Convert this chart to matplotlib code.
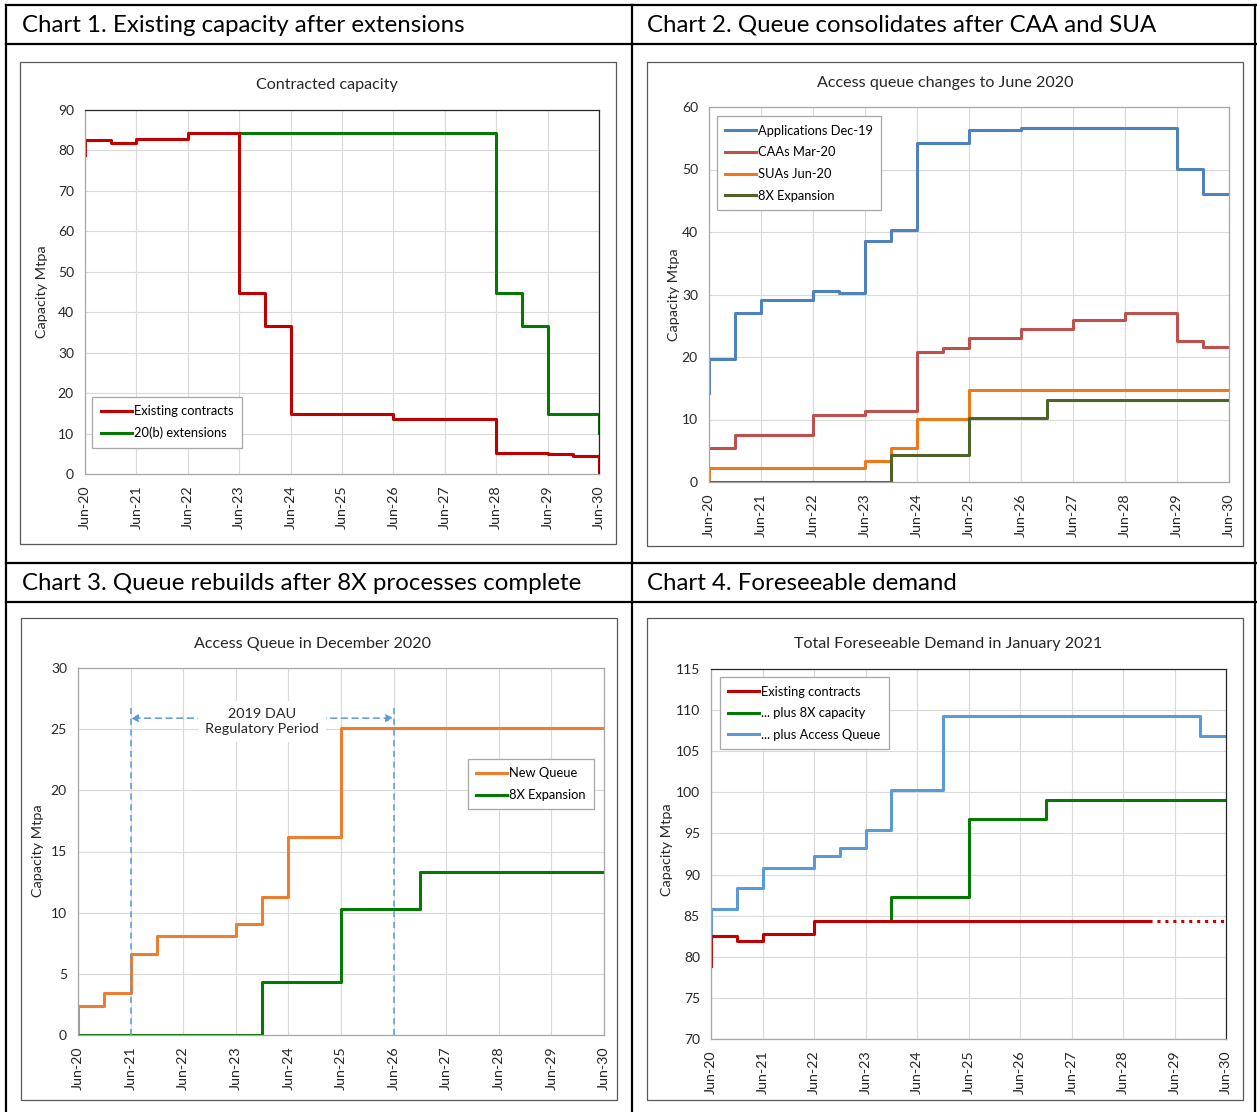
import numpy as np
import matplotlib
matplotlib.use('Agg')
import matplotlib.pyplot as plt
from matplotlib.lines import Line2D
from matplotlib.patches import Rectangle

plt.rcParams['font.family'] = ['Lato', 'DejaVu Sans']

# x positions are years after Jun-20 (step changes at Jun / Dec)
tick_labels = ['Jun-20', 'Jun-21', 'Jun-22', 'Jun-23', 'Jun-24', 'Jun-25',
               'Jun-26', 'Jun-27', 'Jun-28', 'Jun-29', 'Jun-30']

# chart 1 - contracted capacity
c1_existing_x = [0, 0, 0.5, 1, 2, 3, 3.5, 4, 6, 8, 9, 9.5, 10]
c1_existing_y = [78.8, 82.5, 81.9, 82.8, 84.3, 44.7, 36.6, 14.9, 13.6, 5.1, 4.9, 4.4, 0]
c1_ext_x = [3, 8, 8.5, 9, 10]
c1_ext_y = [84.3, 44.7, 36.6, 14.9, 10.2]

# chart 2 - access queue changes to June 2020
c2_apps_x = [0, 0, 0.5, 1, 2, 2.5, 3, 3.5, 4, 5, 6, 9, 9.5, 10]
c2_apps_y = [14.2, 19.7, 27.0, 29.1, 30.6, 30.3, 38.6, 40.4, 54.3, 56.3, 56.7, 50.1, 46.1, 46.1]
c2_caa_x = [0, 0.5, 2, 3, 4, 4.5, 5, 6, 7, 8, 9, 9.5, 10]
c2_caa_y = [5.5, 7.5, 10.8, 11.3, 20.8, 21.5, 23.0, 24.5, 26.0, 27.0, 22.5, 21.6, 21.6]
c2_sua_x = [0, 0, 3, 3.5, 4, 5, 10]
c2_sua_y = [0, 2.3, 3.4, 5.5, 10.1, 14.8, 14.8]
c2_8x_x = [0, 3.5, 5, 6.5, 10]
c2_8x_y = [0, 4.3, 10.3, 13.2, 13.2]

# chart 3 - access queue in December 2020
c3_queue_x = [0, 0, 0.5, 1, 1.5, 3, 3.5, 4, 5, 10]
c3_queue_y = [0, 2.4, 3.4, 6.6, 8.1, 9.1, 11.3, 16.2, 25.1, 25.1]
c3_8x_x = [0, 3.5, 5, 6.5, 10]
c3_8x_y = [0, 4.3, 10.3, 13.3, 13.3]
dau_start, dau_end = 1, 6

# chart 4 - total foreseeable demand
c4_exist_x = [0, 0, 0.5, 1, 2, 8.5]
c4_exist_y = [78.9, 82.5, 81.9, 82.8, 84.3, 84.3]
c4_exist_tail_x = [8.5, 10]
c4_exist_tail_y = [84.3, 84.3]
c4_8x_x = [3.5, 3.5, 5, 6.5, 10]
c4_8x_y = [84.3, 87.3, 96.7, 99.1, 99.1]
c4_queue_x = [0, 0, 0.5, 1, 2, 2.5, 3, 3.5, 4.5, 9.5, 10]
c4_queue_y = [81.3, 85.8, 88.4, 90.8, 92.3, 93.2, 95.4, 100.3, 109.3, 106.9, 106.9]

W, H = 1257, 1112
fig = plt.figure(figsize=(W / 100, H / 100), dpi=100)


def fx(px):
    return px / W


def fy(py):
    return 1 - py / H


def axes_at(l, t, r, b):
    return fig.add_axes([fx(l), fy(b), (r - l) / W, (b - t) / H])


# table grid
for y in [5, 44, 563, 602]:
    fig.add_artist(Line2D([fx(6), fx(1256)], [fy(y), fy(y)], color='black', lw=1.6))
for x in [6, 632, 1255]:
    fig.add_artist(Line2D([fx(x), fx(x)], [fy(5), fy(1112)], color='black', lw=1.6))

headers = [(22, 25, 'Chart 1. Existing capacity after extensions'),
           (647, 25, 'Chart 2. Queue consolidates after CAA and SUA'),
           (22, 583, 'Chart 3. Queue rebuilds after 8X processes complete'),
           (647, 583, 'Chart 4. Foreseeable demand')]
for x, y, s in headers:
    fig.text(fx(x), fy(y), s, fontsize=17.3, va='center', ha='left', color='black')

# chart frames
for l, t, r, b in [(20, 62, 616, 544), (647, 62, 1243, 546),
                   (21, 618, 617, 1100), (647, 618, 1243, 1100)]:
    fig.add_artist(Rectangle((fx(l), fy(b)), (r - l) / W, (b - t) / H,
                             transform=fig.transFigure, fill=False,
                             edgecolor='#595959', lw=0.9))


def style(ax, ymin, ymax, ystep, dark):
    ax.set_xlim(0, 10)
    ax.set_ylim(ymin, ymax)
    ax.set_xticks(range(11))
    ax.set_xticklabels(tick_labels, rotation=90)
    ax.set_yticks(np.arange(ymin, ymax + 0.1, ystep))
    ax.grid(True, color='#D9D9D9', lw=0.8)
    ax.set_axisbelow(True)
    ax.tick_params(axis='y', length=0, labelsize=10, colors='#262626', pad=8)
    ax.tick_params(axis='x', length=0, labelsize=10.3, colors='#262626', pad=8)
    for side in ['left', 'bottom']:
        ax.spines[side].set_color('#A6A6A6')
    for side in ['top', 'right']:
        ax.spines[side].set_color('#262626' if dark else '#A6A6A6')
    for sp in ax.spines.values():
        sp.set_linewidth(0.9)


def legend(ax, **kw):
    leg = ax.legend(fontsize=9.3, handlelength=2.4, handletextpad=0.15,
                    labelspacing=0.75, borderpad=0.65, borderaxespad=0,
                    fancybox=False, framealpha=1, edgecolor='#A6A6A6', **kw)
    leg.get_frame().set_linewidth(0.9)
    return leg


lw = 2.2
title_fs = 11.6
ylab_fs = 10.4

# chart 1
ax1 = axes_at(85, 110, 599, 474)
ax1.step(c1_ext_x, c1_ext_y, where='post', color='#047A04', lw=lw, label='20(b) extensions')
ax1.step(c1_existing_x, c1_existing_y, where='post', color='#C00000', lw=lw, label='Existing contracts')
style(ax1, 0, 90, 10, True)
h, l = ax1.get_legend_handles_labels()
legend(ax1, handles=h[::-1], labels=l[::-1], loc='lower left', bbox_to_anchor=(0.014, 0.072))
fig.text(fx(327), fy(85), 'Contracted capacity', fontsize=title_fs, ha='center', va='center', color='#262626')
fig.text(fx(42), fy(292), 'Capacity Mtpa', fontsize=ylab_fs, rotation=90, ha='center', va='center', color='#262626')

# chart 2
ax2 = axes_at(709, 107, 1229, 482)
ax2.step(c2_apps_x, c2_apps_y, where='post', color='#4F81BD', lw=lw, label='Applications Dec-19')
ax2.step(c2_caa_x, c2_caa_y, where='post', color='#C0504D', lw=lw, label='CAAs Mar-20')
ax2.step(c2_sua_x, c2_sua_y, where='post', color='#F07818', lw=lw, label='SUAs Jun-20')
ax2.step(c2_8x_x, c2_8x_y, where='post', color='#4F6228', lw=lw, label='8X Expansion')
style(ax2, 0, 60, 10, False)
legend(ax2, loc='upper left', bbox_to_anchor=(0.015, 0.975))
fig.text(fx(945), fy(83), 'Access queue changes to June 2020', fontsize=title_fs, ha='center', va='center', color='#262626')
fig.text(fx(674), fy(295), 'Capacity Mtpa', fontsize=ylab_fs, rotation=90, ha='center', va='center', color='#262626')

# chart 3
ax3 = axes_at(78, 668, 604, 1035)
ax3.step(c3_queue_x, c3_queue_y, where='post', color='#ED7D31', lw=lw, label='New Queue')
ax3.step(c3_8x_x, c3_8x_y, where='post', color='#047A04', lw=lw, label='8X Expansion')
style(ax3, 0, 30, 5, False)
dash_col = '#5B9BD5'
for xv in [dau_start, dau_end]:
    ax3.plot([xv, xv], [0, 27], color=dash_col, lw=1.1, ls=(0, (4, 3)), zorder=4)
arr_y = 25.9
ax3.annotate('', xy=(dau_start, arr_y), xytext=(2.4, arr_y),
             arrowprops=dict(arrowstyle='-|>', color=dash_col, lw=1.1, ls=(0, (4, 3)), mutation_scale=11,
                             shrinkA=0, shrinkB=0))
ax3.annotate('', xy=(dau_end, arr_y), xytext=(4.6, arr_y),
             arrowprops=dict(arrowstyle='-|>', color=dash_col, lw=1.1, ls=(0, (4, 3)), mutation_scale=11,
                             shrinkA=0, shrinkB=0))
ax3.text(3.5, 25.6, '2019 DAU\nRegulatory Period', fontsize=10.4, ha='center', va='center',
         color='#262626', linespacing=1.3,
         bbox=dict(facecolor='white', edgecolor='none', pad=5), zorder=3)
legend(ax3, loc='upper right', bbox_to_anchor=(0.981, 0.752))
fig.text(fx(313), fy(644), 'Access Queue in December 2020', fontsize=title_fs, ha='center', va='center', color='#262626')
fig.text(fx(38), fy(851), 'Capacity Mtpa', fontsize=ylab_fs, rotation=90, ha='center', va='center', color='#262626')

# chart 4
ax4 = axes_at(711, 669, 1226, 1039)
ax4.step(c4_queue_x, c4_queue_y, where='post', color='#5B9BD5', lw=lw, label='... plus Access Queue')
ax4.step(c4_8x_x, c4_8x_y, where='post', color='#047A04', lw=lw, label='... plus 8X capacity')
ax4.step(c4_exist_x, c4_exist_y, where='post', color='#C00000', lw=lw, label='Existing contracts')
ax4.plot(c4_exist_tail_x, c4_exist_tail_y, color='#C00000', lw=lw, ls=(0, (1, 1.6)))
style(ax4, 70, 115, 5, True)
h, l = ax4.get_legend_handles_labels()
legend(ax4, handles=h[::-1], labels=l[::-1], loc='upper left', bbox_to_anchor=(0.0175, 0.978))
fig.text(fx(948), fy(644), 'Total Foreseeable Demand in January 2021', fontsize=title_fs, ha='center', va='center', color='#262626')
fig.text(fx(667), fy(850), 'Capacity Mtpa', fontsize=ylab_fs, rotation=90, ha='center', va='center', color='#262626')

fig.savefig('out.png', dpi=100, facecolor='white')
